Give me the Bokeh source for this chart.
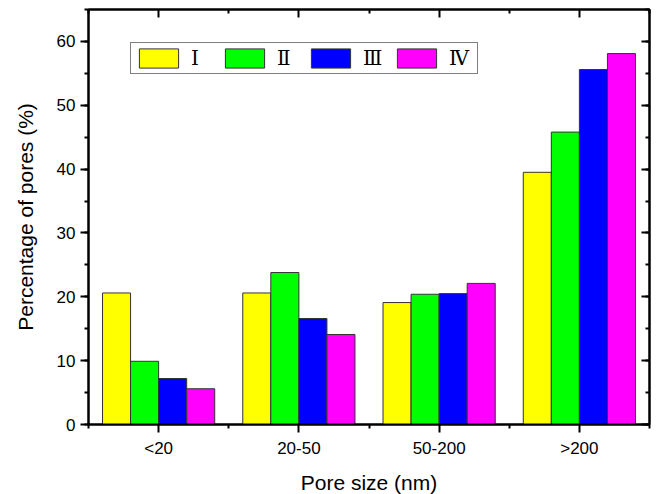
import numpy as np
from bokeh.plotting import figure
from bokeh.models import Range1d, FixedTicker, LinearAxis, Legend, LegendItem
from bokeh.embed import file_html
from bokeh.resources import INLINE

# Pore-size distribution for four samples
size_classes = ["<20", "20-50", "50-200", ">200"]
sample_names = ["Ⅰ", "Ⅱ", "Ⅲ", "Ⅳ"]
sample_I = [20.6, 20.6, 19.1, 39.5]
sample_II = [9.9, 23.8, 20.4, 45.8]
sample_III = [7.2, 16.6, 20.5, 55.6]
sample_IV = [5.6, 14.1, 22.1, 58.1]
y_ticks = [0, 10, 20, 30, 40, 50, 60]

series = [sample_I, sample_II, sample_III, sample_IV]
colors = ["#FFFF00", "#00FF00", "#0000FF", "#FF00FF"]
bar_w = 0.2
offsets = [-0.3, -0.1, 0.1, 0.3]

p = figure(frame_width=561, frame_height=415, output_backend="svg",
           toolbar_location=None,
           x_range=Range1d(0.5, 4.5), y_range=Range1d(0, 65),
           min_border_left=88, min_border_right=8, min_border_top=9,
           min_border_bottom=70)
p.xgrid.visible = False
p.ygrid.visible = False
p.outline_line_color = "black"
p.outline_line_width = 2
p.background_fill_color = "white"
p.border_fill_color = "white"

centers = np.arange(1, len(size_classes) + 1)
renderers = []
for vals, col, off in zip(series, colors, offsets):
    r = p.vbar(x=centers + off, top=vals, width=bar_w, bottom=0,
               fill_color=col, line_color="#333333", line_width=1)
    renderers.append(r)

x_ticker = FixedTicker(ticks=list(centers),
                       minor_ticks=list(np.arange(0.5, len(size_classes) + 1, 1.0)))
y_ticker = FixedTicker(ticks=y_ticks, minor_ticks=list(range(0, 66, 5)))
overrides = {int(c): lab for c, lab in zip(centers, size_classes)}

font = "Liberation Sans"

def style_axis(ax, labels=True, inward=False):
    ax.axis_line_width = 2
    ax.axis_line_color = "black"
    ax.major_tick_line_width = 2
    ax.minor_tick_line_width = 2
    ax.major_tick_line_color = "black"
    ax.minor_tick_line_color = "black"
    if inward:
        ax.major_tick_in, ax.major_tick_out = 8, 0
        ax.minor_tick_in, ax.minor_tick_out = 4, 0
    else:
        ax.major_tick_in, ax.major_tick_out = 0, 8
        ax.minor_tick_in, ax.minor_tick_out = 0, 4
    ax.major_label_text_font = font
    if labels:
        ax.major_label_text_font_size = "17px"
        ax.major_label_text_color = "black"
    else:
        # mirrored axis: ticks only, no numbers
        ax.major_label_text_font_size = "1px"
        ax.major_label_text_color = None
        ax.major_label_standoff = 0
    ax.axis_label_text_font = font
    ax.axis_label_text_font_size = "21px"
    ax.axis_label_text_font_style = "normal"
    ax.axis_label_text_color = "black"

xa = p.xaxis[0]
xa.ticker = x_ticker
xa.major_label_overrides = overrides
xa.axis_label = "Pore size (nm)"
style_axis(xa)
xa.major_label_standoff = 6
xa.axis_label_standoff = 10

ya = p.yaxis[0]
ya.ticker = y_ticker
ya.axis_label = "Percentage of pores (%)"
style_axis(ya)
ya.major_label_standoff = 5
ya.axis_label_standoff = 17

top_ax = LinearAxis(ticker=x_ticker)
style_axis(top_ax, labels=False, inward=True)
p.add_layout(top_ax, "above")

right_ax = LinearAxis(ticker=y_ticker)
style_axis(right_ax, labels=False, inward=True)
p.add_layout(right_ax, "right")

legend = Legend(items=[LegendItem(label=n, renderers=[r])
                       for n, r in zip(sample_names, renderers)],
                orientation="horizontal", location=(42, 350),
                glyph_width=49, glyph_height=24, label_standoff=8,
                label_width=25, spacing=4, padding=3, margin=0,
                label_text_font="DejaVu Serif", label_text_font_size="20px",
                label_text_color="black",
                border_line_color="black", border_line_width=1,
                background_fill_alpha=1)
p.add_layout(legend, "center")

open("out.html", "w").write(file_html(p, INLINE))
